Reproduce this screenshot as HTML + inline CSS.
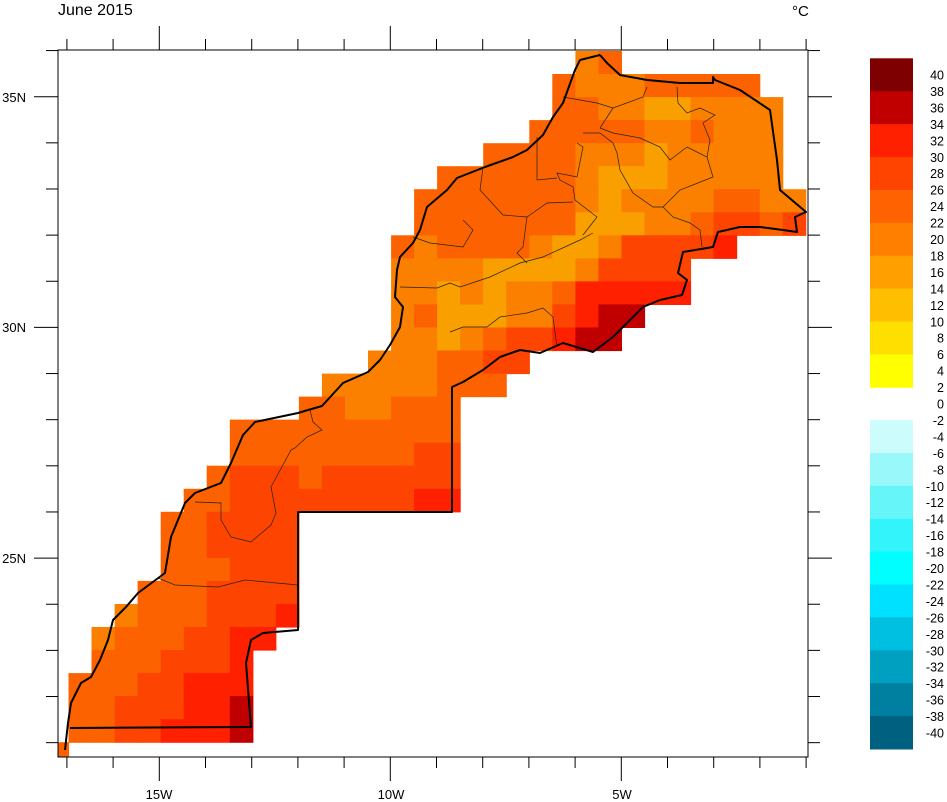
<!DOCTYPE html>
<html><head><meta charset="utf-8"><style>
html,body{margin:0;padding:0;background:#fff;}
svg{display:block;font-family:"Liberation Sans",Arial,sans-serif;}
</style></head><body>
<svg id="s" width="947" height="802" viewBox="0 0 947 802" xmlns="http://www.w3.org/2000/svg">
<defs><clipPath id="cp"><rect x="58" y="50" width="750" height="707"/></clipPath></defs>
<g id="cells" clip-path="url(#cp)"></g>
<g clip-path="url(#cp)" fill="none" stroke="#222" stroke-width="0.7">
<polyline points="195,502 221,503 221,520 231,537 251,542 271,525 276,513 271,487 291,450 295,448 307,437 322,430 313,422 310,410"/>
<polyline points="158,578 175,585 218,587 245,580 298,585"/>
<polyline points="400,287 437,288 450,283 460,287 490,277 520,263 543,257 580,240 593,233"/>
<polyline points="450,332 463,327 487,327 500,317 527,313 543,308 553,317 557,347"/>
<polyline points="583,235 597,217 575,200 573,187 560,180 557,173 577,177 583,147 577,143"/>
<polyline points="527,217 547,203 573,202"/>
<polyline points="483,167 480,190 503,215 527,217 523,247 517,253 527,263"/>
<polyline points="463,220 473,230 463,247 430,243 413,237"/>
<polyline points="537,137 537,180 557,178"/>
<polyline points="563,97 597,103 613,108 643,97 647,87"/>
<polyline points="600,128 613,133 640,138 660,147 670,160 687,147 707,157 713,177 680,190 663,207 653,207 633,193 620,170 617,153 613,143 600,133 583,133"/>
<polyline points="613,108 600,128"/>
<polyline points="677,87 678,103 687,113 700,108 715,115 703,123 710,140 707,157"/>
<polyline points="663,207 673,217 690,223 700,230 702,247"/>
</g>
<g clip-path="url(#cp)" fill="none" stroke="#000" stroke-width="2" stroke-linejoin="round">
<polyline points="600,55 580,60 575,70 563,103 553,117 543,135 527,150 513,157 485,167 457,178 447,190 427,207 420,230 413,243 400,257 397,270 395,297 403,307 400,327 390,345 380,360 368,372 343,383 322,406 308,410 298,413 255,422 243,435 231,463 221,483 195,493 185,503 171,537 165,573 138,593 126,607 113,620 108,640 100,660 91,677 81,683 71,703 68,723 65,750"/>
<polyline points="70,728 251,727 246,663 251,640 263,633 298,630 298,512 452,512 452,387 463,382 483,370 500,357 520,350 540,353 563,343 593,352 613,337 643,307 660,300 682,295 687,280 678,273 683,252 713,247 718,232 740,227 760,227 783,230 797,232 795,217 806,212 780,190 777,160 770,110 740,90 715,80 713,77 713,83 680,83 647,80 620,75 607,63 600,55"/>
</g>
<g id="axes" stroke="#000" stroke-width="1" fill="none"></g>
<rect x="58" y="50" width="750" height="707" fill="none" stroke="#000" stroke-width="1"/>
<g font-size="13" fill="#000">
<text x="58" y="15" font-size="16">June 2015</text>
<text x="792" y="16" font-size="15">°C</text>
<text x="159" y="799" text-anchor="middle">15W</text>
<text x="391" y="799" text-anchor="middle">10W</text>
<text x="622" y="799" text-anchor="middle">5W</text>
<text x="26" y="102" text-anchor="end">35N</text>
<text x="26" y="332" text-anchor="end">30N</text>
<text x="26" y="563" text-anchor="end">25N</text>
</g>
<g id="cbar"></g>
</svg>
<script>
(function(){
var NS="http://www.w3.org/2000/svg";
var C={R:"#c00000",r:"#ff2000",O:"#fd4400",o:"#fc6200",a:"#fb8000",y:"#f99f00"};
var rows=[[0,22,"ao"],[1,21,"oaaaooooo"],[2,21,"ooaayyaaaa"],[3,20,"oooooaaoaaa"],[4,18,"ooooaaayaaaaa"],
[5,16,"ooooooayyyaaaaa"],[6,15,"oooooooayaaaaooaa"],[7,15,"oooooooyyyaaoOOoO"],[8,14,"oaooooayyaOOOOr"],
[9,14,"aaaayyyyaOOOO"],[10,14,"aayayaaorrrrr"],[11,14,"aoyyyaaOrRR"],[12,14,"aayaoOOrRR"],[13,13,"aaaooOO"],
[14,11,"aaaaaooo"],[15,10,"ooaaooo"],[16,7,"oooooooooo"],[17,7,"ooooooooOO"],[18,6,"oOOOoOOOOOO"],
[19,5,"ooOOOOOOOOrr"],[20,4,"ooOOOO"],[21,4,"ooOOOO"],[22,4,"oooOOO"],[23,3,"oooOOOO"],[24,2,"aoooOOOr"],
[25,1,"aoooOOrr"],[26,1,"oooOOOr"],[27,0,"oooOOrrr"],[28,0,"ooOOOrrR"],[29,0,"ooOOrrrR"],[30,-1,"o"]];
var g=document.getElementById("cells");
rows.forEach(function(rw){var s=rw[2];for(var i=0;i<s.length;i++){var e=document.createElementNS(NS,"rect");
e.setAttribute("x",(68.5+23.04*(rw[1]+i)).toFixed(1));e.setAttribute("y",(51+23.04*rw[0]).toFixed(1));
e.setAttribute("width","23.6");e.setAttribute("height","23.6");e.setAttribute("fill",C[s[i]]);g.appendChild(e);}});
var ax=document.getElementById("axes");
function ln(x1,y1,x2,y2){var e=document.createElementNS(NS,"line");e.setAttribute("x1",x1);e.setAttribute("y1",y1);e.setAttribute("x2",x2);e.setAttribute("y2",y2);ax.appendChild(e);}
for(var lon=-17;lon<=-1;lon++){var x=159.3+(lon+15)*46.2;var L=(lon%5==0)?24:11;ln(x,50,x,50-L);ln(x,757,x,757+L);}
for(var lat=21;lat<=36;lat++){var y=96.7+(35-lat)*46.14;if(y<50||y>757)continue;var L=(lat%5==0)?24:12;ln(58,y,58-L,y);ln(808,y,808+L,y);}
var cb=document.getElementById("cbar");
var warm=["#7f0000","#c00000","#ff2000","#ff4400","#ff6200","#ff8000","#ff9f00","#ffbf00","#ffdf00","#ffff00"];
var cold=["#ccfcfc","#99f8fa","#66f6fa","#33f4fa","#00ffff","#00e0ff","#00c0e2","#00a0c0","#0080a0","#006080"];
function rc(y,h,f){var e=document.createElementNS(NS,"rect");e.setAttribute("x",870);e.setAttribute("y",y);e.setAttribute("width",43);e.setAttribute("height",h+0.5);e.setAttribute("fill",f);cb.appendChild(e);}
for(var i=0;i<10;i++){rc(58.3+32.9*i,32.9,warm[i]);rc(420+32.9*i,32.9,cold[i]);}
for(var k=0;k<=40;k++){var v=40-2*k;var t=document.createElementNS(NS,"text");t.setAttribute("x",944);t.setAttribute("y",(75+16.45*k+4.5).toFixed(1));
t.setAttribute("text-anchor","end");t.setAttribute("font-size","12.5");t.textContent=String(v);cb.appendChild(t);}
})();
</script>
</body></html>
